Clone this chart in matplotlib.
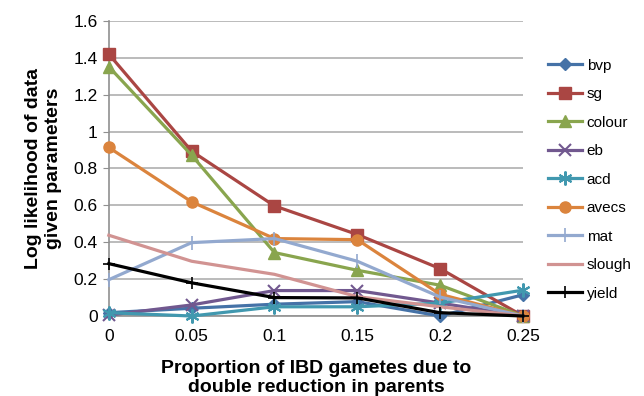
import matplotlib
matplotlib.use("Agg")
import matplotlib.pyplot as plt
from matplotlib.ticker import FuncFormatter

plt.rcParams['font.family'] = ['Liberation Sans', 'DejaVu Sans']

x = [0, 0.05, 0.1, 0.15, 0.2, 0.25]
bvp = [0.018, 0.042, 0.064, 0.078, 0.0, 0.115]
sg = [1.42, 0.894, 0.597, 0.442, 0.257, 0.0]
colour = [1.352, 0.872, 0.344, 0.248, 0.167, 0.0]
eb = [0.005, 0.06, 0.138, 0.138, 0.07, 0.0]
acd = [0.018, 0.0, 0.05, 0.05, 0.07, 0.14]
avecs = [0.914, 0.619, 0.42, 0.414, 0.118, 0.0]
mat = [0.197, 0.398, 0.42, 0.297, 0.103, 0.0]
slough = [0.438, 0.297, 0.226, 0.105, 0.05, 0.0]
yld = [0.284, 0.18, 0.1, 0.098, 0.018, 0.0]

series = [
    ("bvp", bvp, "#4572A7", "D", 6, 1),
    ("sg", sg, "#AA4643", "s", 8, 1),
    ("colour", colour, "#89A54E", "^", 8, 1),
    ("eb", eb, "#71588F", "x", 9, 1.5),
    ("acd", acd, "#4198AF", (6, 2, 0), 10, 1.5),
    ("avecs", avecs, "#DB843D", "o", 8, 1),
    ("mat", mat, "#93A9CF", "|", 10, 1.2),
    ("slough", slough, "#D19392", None, 0, 1),
    ("yield", yld, "black", "+", 9, 1.2),
]

fig = plt.figure(figsize=(6.44, 3.96), dpi=100)
ax = fig.add_axes([0.169, 0.202, 0.643, 0.745])

handles = []
for name, vals, col, mk, ms, mew in series:
    h, = ax.plot(x, vals, color=col, lw=2.3, marker=mk, ms=ms,
                 markeredgewidth=mew, markeredgecolor=col, markerfacecolor=col,
                 label=name, clip_on=False, zorder=3)
    handles.append(h)

ax.set_xlim(0, 0.25)
ax.set_ylim(0, 1.6)
ax.set_xticks(x)
ax.set_yticks([0, 0.2, 0.4, 0.6, 0.8, 1.0, 1.2, 1.4, 1.6])
fmt = FuncFormatter(lambda v, p: "%g" % round(v, 3))
ax.xaxis.set_major_formatter(fmt)
ax.yaxis.set_major_formatter(fmt)
ax.tick_params(axis='both', labelsize=12.5, color='#909090', length=4)
ax.tick_params(axis='x', length=0, pad=9)
ax.tick_params(axis='y', pad=4)
ax.grid(axis='y', color='#A8A8A8', lw=1.1)
ax.set_axisbelow(True)
for s in ['top', 'right']:
    ax.spines[s].set_visible(False)
for s in ['left', 'bottom']:
    ax.spines[s].set_color('#909090')
    ax.spines[s].set_linewidth(1.2)

ax.set_xlabel("Proportion of IBD gametes due to\ndouble reduction in parents",
              fontsize=14, fontweight='bold', labelpad=12, linespacing=1.15)
ax.set_ylabel("Log likelihood of data\ngiven parameters",
              fontsize=14, fontweight='bold', labelpad=8, linespacing=1.25)

fig.legend(handles=handles, loc='upper left', bbox_to_anchor=(0.851, 0.852),
           frameon=False, fontsize=11, handlelength=2.2, labelspacing=0.95,
           handletextpad=0.33, borderpad=0, borderaxespad=0)

fig.savefig("out.png", dpi=100)
